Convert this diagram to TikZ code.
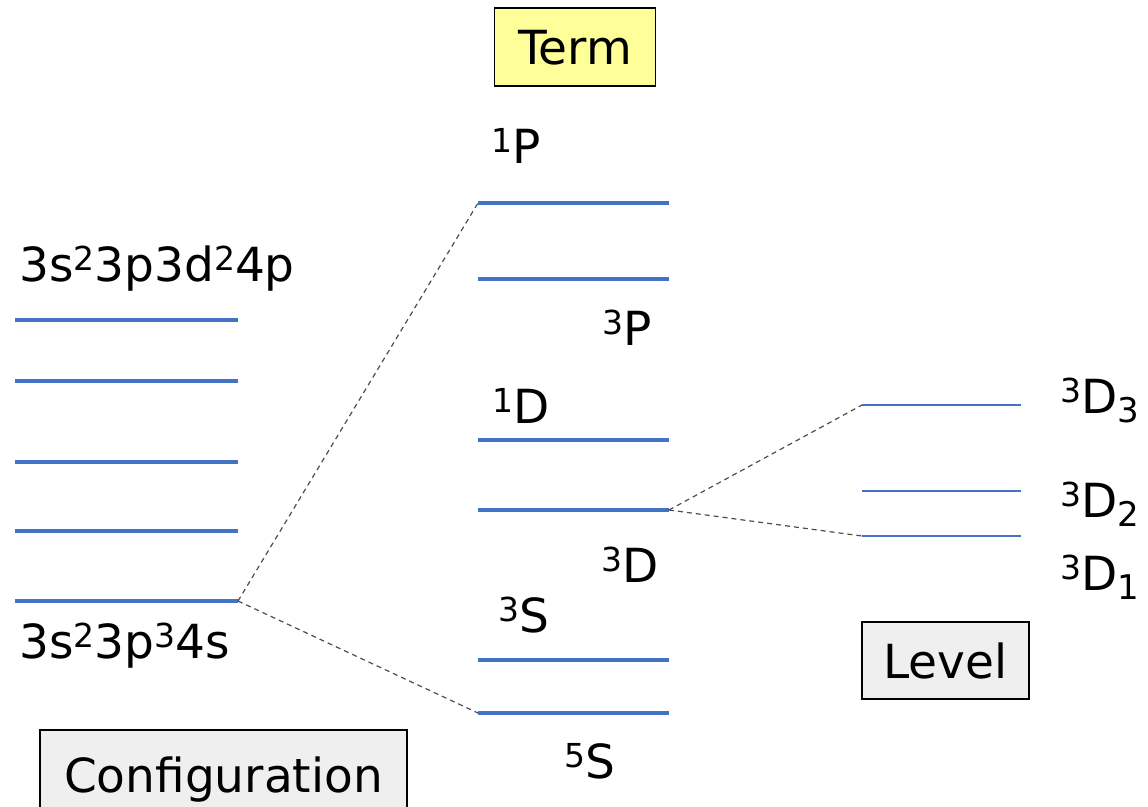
\documentclass[tikz,border=0pt]{standalone}
\usepackage{fontspec}
\setmainfont{DejaVu Sans}
\definecolor{lvlblue}{HTML}{4472C4}
\definecolor{termfill}{HTML}{FFFF99}
\definecolor{boxfill}{HTML}{EFEFEF}
\definecolor{linkgray}{HTML}{4D4D4D}
% raised and lowered indices for term symbols
\newcommand\upidx[1]{\raisebox{11pt}{\fontsize{33}{33}\selectfont #1}}
\newcommand\dnidx[1]{\raisebox{-9pt}{\fontsize{34}{34}\selectfont #1}}
\begin{document}
\begin{tikzpicture}[x=1pt,y=-1pt,
  lvl/.style={draw=lvlblue,line width=4pt},
  fine/.style={draw=lvlblue,line width=1.4pt},
  link/.style={draw=linkgray,line width=1.2pt,dash pattern=on 5pt off 4pt},
  lbl/.style={anchor=base west,inner sep=0pt,font=\fontsize{47}{56}\selectfont},
  tagbox/.style={draw=black,line width=1.5pt,inner sep=0pt,text depth=0pt,
    font=\fontsize{47}{56}\selectfont}]
\useasboundingbox (0,0) rectangle (1148,806);

% configurations
\coordinate (a1L) at (15,320);  \coordinate (a1R) at (238,320);
\coordinate (a2L) at (15,381);  \coordinate (a2R) at (238,381);
\coordinate (a3L) at (15,462);  \coordinate (a3R) at (238,462);
\coordinate (a4L) at (15,531);  \coordinate (a4R) at (238,531);
\coordinate (a5L) at (15,601);  \coordinate (a5R) at (238,601);
\foreach \i in {1,...,5} \draw[lvl] (a\i L) -- (a\i R);

% terms
\coordinate (t1L) at (478,203); \coordinate (t1R) at (669,203);
\coordinate (t2L) at (478,279); \coordinate (t2R) at (669,279);
\coordinate (t3L) at (478,440); \coordinate (t3R) at (669,440);
\coordinate (t4L) at (478,510); \coordinate (t4R) at (669,510);
\coordinate (t5L) at (478,660); \coordinate (t5R) at (669,660);
\coordinate (t6L) at (478,713); \coordinate (t6R) at (669,713);
\foreach \i in {1,...,6} \draw[lvl] (t\i L) -- (t\i R);

% fine-structure levels of 3D
\coordinate (j3L) at (862,405); \coordinate (j3R) at (1021,405);
\coordinate (j2L) at (862,491); \coordinate (j2R) at (1021,491);
\coordinate (j1L) at (862,536); \coordinate (j1R) at (1021,536);
\foreach \i in {1,2,3} \draw[fine] (j\i L) -- (j\i R);

% correlation lines
\draw[link] (a5R) -- (t1L);
\draw[link] (a5R) -- (t6L);
\draw[link] (t4R) -- (j3L);
\draw[link] (t4R) -- (j1L);

% labels
\node[lbl] (cfgup) at (19,281) {3s\upidx{2}3p3d\upidx{2}4p};
\node[lbl] (cfglo) at (19,658) {3s\upidx{2}3p\upidx{3}4s};
\node[lbl] (p1) at (491,163) {\upidx{1}P};
\node[lbl] (p3) at (602,345) {\upidx{3}P};
\node[lbl] (d1) at (492,423) {\upidx{1}D};
\node[lbl] (d3) at (601,582) {\upidx{3}D};
\node[lbl] (s3) at (498,632) {\upidx{3}S};
\node[lbl] (s5) at (564,778) {\upidx{5}S};
\node[lbl] (dj3) at (1060,413) {\upidx{3}D\dnidx{3}};
\node[lbl] (dj2) at (1060,517) {\upidx{3}D\dnidx{2}};
\node[lbl] (dj1) at (1060,590) {\upidx{3}D\dnidx{1}};

% headings
\node[tagbox,fill=termfill,minimum width=161pt,minimum height=78pt] (term) at (575,47) {Term};
\node[tagbox,fill=boxfill,minimum width=167pt,minimum height=77pt] (level) at (945.5,660.5) {Level};
\node[tagbox,fill=boxfill,minimum width=367pt,minimum height=89pt] (config) at (223.5,774.5) {Configuration};
\end{tikzpicture}
\end{document}
